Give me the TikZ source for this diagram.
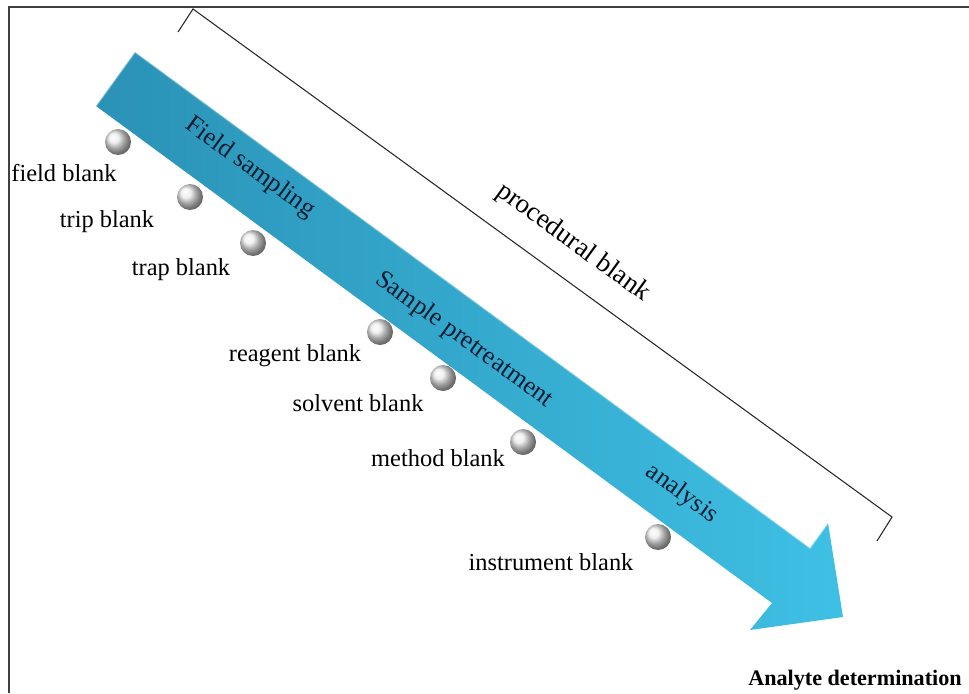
\documentclass[tikz,border=0pt]{standalone}
\usepackage{fontspec}
\setmainfont{Liberation Serif}
\definecolor{arrowdark}{RGB}{42,146,182}
\definecolor{arrowlight}{RGB}{62,192,228}
\definecolor{stagetext}{RGB}{12,28,48}

\begin{document}
\begin{tikzpicture}[
    x=0.02cm, y=-0.02cm,
    every node/.style={font=\fontsize{13.9}{16}\selectfont},
    blank/.style={inner sep=0pt},
    stage/.style={inner sep=0pt, rotate=-36, text=stagetext, font=\fontsize{14.6}{17}\selectfont},
    bead/.style={circle, inner sep=0pt, minimum size=0.52cm, shading=ball, ball color=gray!15},
]
\useasboundingbox (0,0) rectangle (969,693);

% === Frame ===
\draw[black!75, line width=1pt] (969,7) -- (9,7) -- (9,693);

% === Main arrow ===
\shade[left color=arrowdark, right color=arrowlight]
    (135,52) -- (810,548) -- (828,523) -- (843,617) -- (750,630) -- (772,603) -- (96,106) -- cycle;
\draw[white, opacity=0.35, line width=1pt] (96,106) -- (135,52) -- (810,548) -- (828,523);

% === Stages on the arrow ===
\node[stage] (field) at (250,168) {Field sampling};
\node[stage] (pretreat) at (464,340) {Sample pretreatment};
\node[stage] (analysis) at (682,494) {analysis};

% === Procedural bracket ===
\draw[black!85, line width=0.6pt] (178,32) -- (193,9) -- (892,517) -- (877,541);
\node[stage, text=black, font=\fontsize{15.4}{18}\selectfont] (proc) at (573,243) {procedural blank};

% === Blanks (beads under the arrow) ===
\node[bead] (b1) at (118,142) {};
\node[blank] (l1) at (64,173) {field blank};
\node[bead] (b2) at (190,197) {};
\node[blank] (l2) at (107,222) {trip blank};
\node[bead] (b3) at (253,243) {};
\node[blank] (l3) at (181,270) {trap blank};
\node[bead] (b4) at (380,332) {};
\node[blank] (l4) at (295,356) {reagent blank};
\node[bead] (b5) at (443,378) {};
\node[blank] (l5) at (358,403) {solvent blank};
\node[bead] (b6) at (523,442) {};
\node[blank] (l6) at (438,458) {method blank};
\node[bead] (b7) at (658,537) {};
\node[blank] (l7) at (551,562) {instrument blank};

% === Result ===
\node[blank, font=\fontsize{12.6}{15}\selectfont\bfseries] (result) at (855,680) {Analyte determination};

\end{tikzpicture}
\end{document}
